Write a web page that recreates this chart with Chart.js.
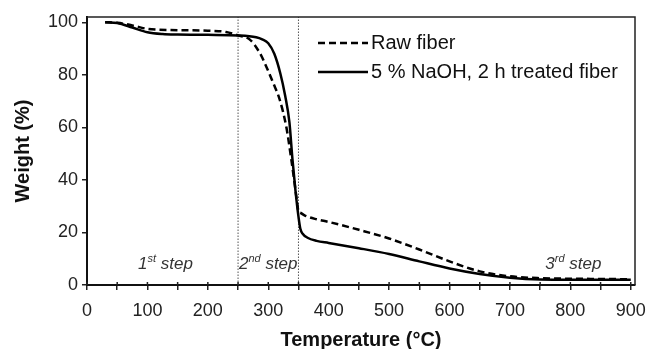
<!DOCTYPE html>
<html>
<head>
<meta charset="utf-8">
<script src="https://cdn.jsdelivr.net/npm/chart.js@4"></script>
<style>
  html, body { margin: 0; padding: 0; background: #fff; }
  #wrap { width: 648px; height: 349px; }
</style>
</head>
<body>
<div id="wrap"><canvas id="myChart" width="648" height="349"></canvas></div>
<script>
const rawT = [30, 50, 75, 100, 150, 200, 230, 250, 270, 286, 297, 308, 319, 330, 338, 344, 348, 350, 353, 360, 380, 400, 450, 500, 550, 600, 650, 700, 750, 800, 850, 900];
const rawW = [100, 99.8, 98.8, 97.5, 97, 96.8, 96.3, 95, 93.3, 88.3, 83, 77, 70.5, 60, 48, 38, 31, 28, 27.5, 26.5, 25, 24, 21, 17.7, 13.5, 9, 5.2, 3.3, 2.6, 2.4, 2.3, 2.2];
const naohT = [30, 50, 75, 100, 125, 150, 200, 250, 280, 290, 300, 310, 320, 328, 335, 340, 345, 350, 353, 357, 365, 380, 400, 450, 500, 550, 600, 650, 700, 750, 800, 900];
const naohW = [100, 99.7, 98, 96.2, 95.5, 95.3, 95.2, 95, 94.3, 93.5, 92, 88, 80.5, 72, 62, 48, 36, 26, 21.5, 19.5, 18, 16.8, 16, 14, 11.8, 9, 6.3, 4.2, 2.8, 2.1, 2.0, 2.0];
const stepBounds = [250, 350];
const seriesNames = ['Raw fiber', '5 % NaOH, 2 h treated fiber'];
const stepLabels = [
  { num: '1', sup: 'st', x: 130 },
  { num: '2', sup: 'nd', x: 300 },
  { num: '3', sup: 'rd', x: 805 }
];

const toPts = (xs, ys) => xs.map((x, i) => ({ x: x, y: ys[i] }));
const ctx = document.getElementById('myChart').getContext('2d');

const dividers = stepBounds.map(t => ({
  label: '',
  data: [{ x: t, y: 0 }, { x: t, y: 102 }],
  borderColor: '#555',
  borderWidth: 1,
  borderDash: [1.5, 1.5],
  pointRadius: 0
}));

// legend, frame, step texts, inner half of x ticks
const extras = {
  id: 'extras',
  afterDraw(chart) {
    const c = chart.ctx;
    const a = chart.chartArea;
    const xs = chart.scales.x;
    c.save();
    c.strokeStyle = '#222';
    c.lineWidth = 1.5;
    c.beginPath();
    c.moveTo(a.left, a.top);
    c.lineTo(a.right, a.top);
    c.lineTo(a.right, a.bottom);
    c.stroke();
    xs.ticks.forEach(t => {
      const px = xs.getPixelForValue(t.value);
      c.beginPath();
      c.moveTo(px, a.bottom);
      c.lineTo(px, a.bottom - 3);
      c.stroke();
    });
    // legend
    const items = [
      { ds: chart.data.datasets[0], y: 43 },
      { ds: chart.data.datasets[1], y: 72 }
    ];
    items.forEach((it, i) => {
      c.strokeStyle = '#000';
      c.lineWidth = 2.5;
      c.setLineDash(it.ds.borderDash || []);
      c.beginPath();
      c.moveTo(318, it.y);
      c.lineTo(368, it.y);
      c.stroke();
      c.setLineDash([]);
      c.fillStyle = '#111';
      c.font = '20px "Liberation Sans", Arial, sans-serif';
      c.textBaseline = 'middle';
      c.fillText(seriesNames[i], 371, it.y);
    });
    // step labels
    c.fillStyle = '#333';
    c.textBaseline = 'alphabetic';
    stepLabels.forEach(s => {
      const big = 'italic 17px "Liberation Sans", Arial, sans-serif';
      const small = 'italic 11px "Liberation Sans", Arial, sans-serif';
      c.font = big;
      const w1 = c.measureText(s.num).width;
      c.font = small;
      const w2 = c.measureText(s.sup).width;
      c.font = big;
      const w3 = c.measureText(' step').width;
      let x = xs.getPixelForValue(s.x) - (w1 + w2 + w3) / 2;
      const y = 269;
      c.font = big;
      c.fillText(s.num, x, y);
      c.font = small;
      c.fillText(s.sup, x + w1, y - 7);
      c.font = big;
      c.fillText(' step', x + w1 + w2, y);
    });
    c.restore();
  }
};

const myChart = new Chart(ctx, {
  type: 'line',
  data: {
    datasets: [
      {
        label: seriesNames[0],
        data: toPts(rawT, rawW),
        borderColor: '#000',
        borderWidth: 2.5,
        borderDash: [7, 4],
        pointRadius: 0,
        cubicInterpolationMode: 'monotone'
      },
      {
        label: seriesNames[1],
        data: toPts(naohT, naohW),
        borderColor: '#000',
        borderWidth: 2.5,
        pointRadius: 0,
        cubicInterpolationMode: 'monotone'
      }
    ].concat(dividers)
  },
  options: {
    responsive: false,
    animation: false,
    layout: { padding: { top: 17, right: 13, left: 0, bottom: 0 } },
    plugins: {
      legend: { display: false },
      tooltip: { enabled: false }
    },
    scales: {
      x: {
        type: 'linear',
        min: 0,
        max: 907,
        afterBuildTicks: s => { s.ticks = []; for (let v = 0; v <= 900; v += 50) s.ticks.push({ value: v }); },
        afterFit: s => { s.height = 64; s.paddingLeft = 0; s.paddingRight = 0; },
        ticks: {
          autoSkip: false,
          maxRotation: 0,
          color: '#222',
          padding: 10,
          font: { family: '"Liberation Sans", Arial, sans-serif', size: 18 },
          callback: v => (v % 100 === 0 ? String(v) : '')
        },
        grid: { drawOnChartArea: false, tickLength: 5, color: '#222', lineWidth: 1.5 },
        border: { color: '#111', width: 2 },
        title: {
          display: true,
          text: 'Temperature (°C)',
          color: '#111',
          padding: { top: 0, bottom: -3 },
          font: { family: '"Liberation Sans", Arial, sans-serif', size: 20, weight: 'bold' }
        }
      },
      y: {
        min: 0,
        max: 102,
        afterBuildTicks: s => { s.ticks = [0, 20, 40, 60, 80, 100].map(v => ({ value: v })); },
        afterFit: s => { s.width = 87; },
        ticks: {
          color: '#222',
          padding: 4,
          font: { family: '"Liberation Sans", Arial, sans-serif', size: 18 }
        },
        grid: { drawOnChartArea: false, tickLength: 5, color: '#222', lineWidth: 1.5 },
        border: { color: '#111', width: 2 },
        title: {
          display: true,
          text: 'Weight (%)',
          color: '#111',
          padding: { top: 11, bottom: 0 },
          font: { family: '"Liberation Sans", Arial, sans-serif', size: 20, weight: 'bold' }
        }
      }
    }
  },
  plugins: [extras]
});
</script>
</body>
</html>
